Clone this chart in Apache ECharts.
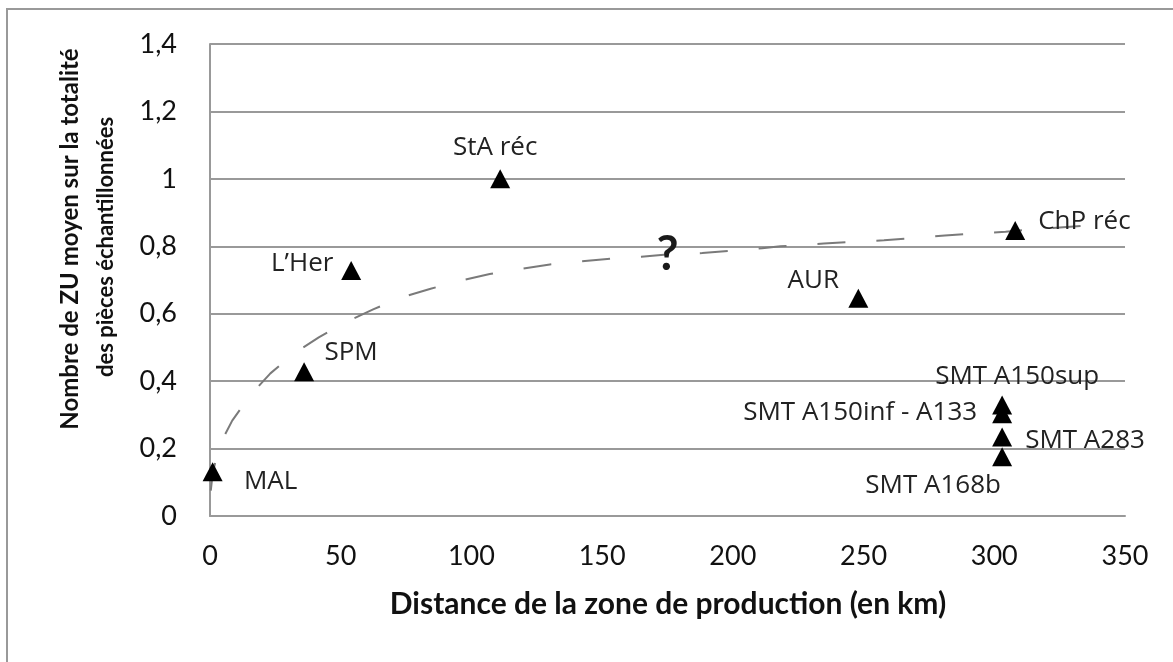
<!DOCTYPE html>
<html><head><meta charset="utf-8">
<script src="https://cdn.jsdelivr.net/npm/echarts@6/dist/echarts.min.js"></script>
<style>html,body{margin:0;padding:0;background:#fff}#c{width:1173px;height:662px}</style>
</head><body><div id="c"></div>
<script>
// ---- data ----
const siteNames = ['MAL', 'SPM', 'L’Her', 'StA réc', 'AUR', 'ChP réc', 'SMT A150sup', 'SMT A150inf - A133', 'SMT A283', 'SMT A168b'];
const distanceKm = [1, 36, 54, 111, 248, 308, 303, 303, 303, 303];
const meanZU = [0.131, 0.428, 0.728, 1.0, 0.646, 0.847, 0.329, 0.303, 0.234, 0.176];

const trendDistance = [0.3, 1, 3.4, 8.5, 15.5, 23.1, 32.4, 41.6, 52.5, 62.4, 73.5, 84.4, 95.8, 107, 118.8, 130, 141.7, 153.2, 165, 173.6, 188.3, 199.8, 211.2, 218.2, 234.8, 246.1, 257.8, 269.2, 281.1, 292.6, 304.3, 315.8, 333];
const trendZU = [0.075, 0.125, 0.206, 0.283, 0.359, 0.423, 0.483, 0.530, 0.577, 0.613, 0.649, 0.674, 0.698, 0.718, 0.733, 0.746, 0.755, 0.763, 0.769, 0.775, 0.780, 0.787, 0.794, 0.800, 0.808, 0.813, 0.818, 0.824, 0.832, 0.838, 0.843, 0.851, 0.860];

const noteText = ['?'];
const noteX = [175];
const noteY = [0.775];

const xTickLabels = ['0', '50', '100', '150', '200', '250', '300', '350'];
const yTickLabels = ['0', '0,2', '0,4', '0,6', '0,8', '1', '1,2', '1,4'];

const xTitle = 'Distance de la zone de production (en km)';
const yTitleLines = ['Nombre de ZU moyen sur la totalité', 'des pièces échantillonnées'];

// ---- label placement (style, not data) ----
const labelPlacement = {
  'MAL': { offset: [58, 10], align: 'center' },
  'SPM': { offset: [47, -19], align: 'center' },
  'L’Her': { offset: [-49, -7], align: 'center' },
  'StA réc': { offset: [-5, -31], align: 'center' },
  'AUR': { offset: [-45, -18], align: 'center' },
  'ChP réc': { offset: [23, -9], align: 'left' },
  'SMT A150sup': { offset: [15, -28], align: 'center' },
  'SMT A150inf - A133': { offset: [-25, -1], align: 'right' },
  'SMT A283': { offset: [23, 3], align: 'left' },
  'SMT A168b': { offset: [-69, 29], align: 'center' }
};

const GRAY = '#999999';
const chart = echarts.init(document.getElementById('c'), null, { renderer: 'canvas' });

const pointData = siteNames.map((n, i) => ({
  name: n,
  value: [distanceKm[i], meanZU[i]],
  label: {
    show: true,
    position: 'inside',
    offset: labelPlacement[n].offset,
    align: labelPlacement[n].align,
    verticalAlign: 'middle',
    formatter: '{b}'
  }
}));

const option = {
  animation: false,
  backgroundColor: '#fff',
  grid: { left: 210, right: 48, top: 44, bottom: 146, containLabel: false },
  xAxis: {
    type: 'value', min: 0, max: 350, interval: 50,
    axisLine: { show: true, lineStyle: { color: GRAY, width: 2 } },
    axisTick: { show: false },
    splitLine: { show: false },
    axisLabel: {
      margin: 27, color: '#111', fontFamily: 'Lato', fontSize: 27,
      formatter: (v, i) => xTickLabels[i] ?? String(v)
    }
  },
  yAxis: {
    type: 'value', min: 0, max: 1.4, interval: 0.2,
    axisLine: { show: true, lineStyle: { color: GRAY, width: 2 } },
    axisTick: { show: false },
    splitLine: { show: true, lineStyle: { color: GRAY, width: 2 } },
    axisLabel: {
      margin: 33, color: '#111', fontFamily: 'Lato', fontSize: 27,
      formatter: (v, i) => yTickLabels[i] ?? String(v)
    }
  },
  series: [
    {
      type: 'line',
      data: trendDistance.map((x, i) => [x, trendZU[i]]),
      showSymbol: false, symbol: 'none', smooth: false,
      lineStyle: { color: '#7a7a7a', width: 2, type: [28, 31] },
      z: 2, silent: true
    },
    {
      type: 'scatter',
      data: pointData,
      symbol: 'triangle',
      symbolSize: [20, 19],
      itemStyle: { color: '#000', opacity: 1 },
      label: { color: '#222', fontFamily: 'Open Sans', fontSize: 26 },
      z: 3
    },
    {
      type: 'scatter',
      data: noteText.map((t, i) => ({ name: t, value: [noteX[i], noteY[i]] })),
      symbolSize: 0,
      itemStyle: { opacity: 1 },
      label: {
        show: true, position: 'inside', formatter: '{b}',
        color: '#1a1a1a', fontFamily: 'Lato', fontWeight: 'bold', fontSize: 48
      },
      z: 4
    }
  ],
  graphic: [
    {
      type: 'rect', shape: { x: 7, y: 9, width: 1200, height: 700 },
      style: { fill: 'none', stroke: GRAY, lineWidth: 2 }, silent: true, z: -1
    },
    {
      type: 'text', x: 668, y: 604,
      style: { text: xTitle, fill: '#111', font: 'bold 30px Lato', textAlign: 'center', textVerticalAlign: 'middle' }
    },
    {
      type: 'text', x: 70, y: 239, rotation: Math.PI / 2,
      style: { text: yTitleLines[0], fill: '#111', font: 'bold 24px Lato', textAlign: 'center', textVerticalAlign: 'middle' }
    },
    {
      type: 'text', x: 106, y: 247, rotation: Math.PI / 2,
      style: { text: yTitleLines[1], fill: '#111', font: 'bold 22px Lato', textAlign: 'center', textVerticalAlign: 'middle' }
    }
  ]
};
chart.setOption(option);
</script>
</body></html>
